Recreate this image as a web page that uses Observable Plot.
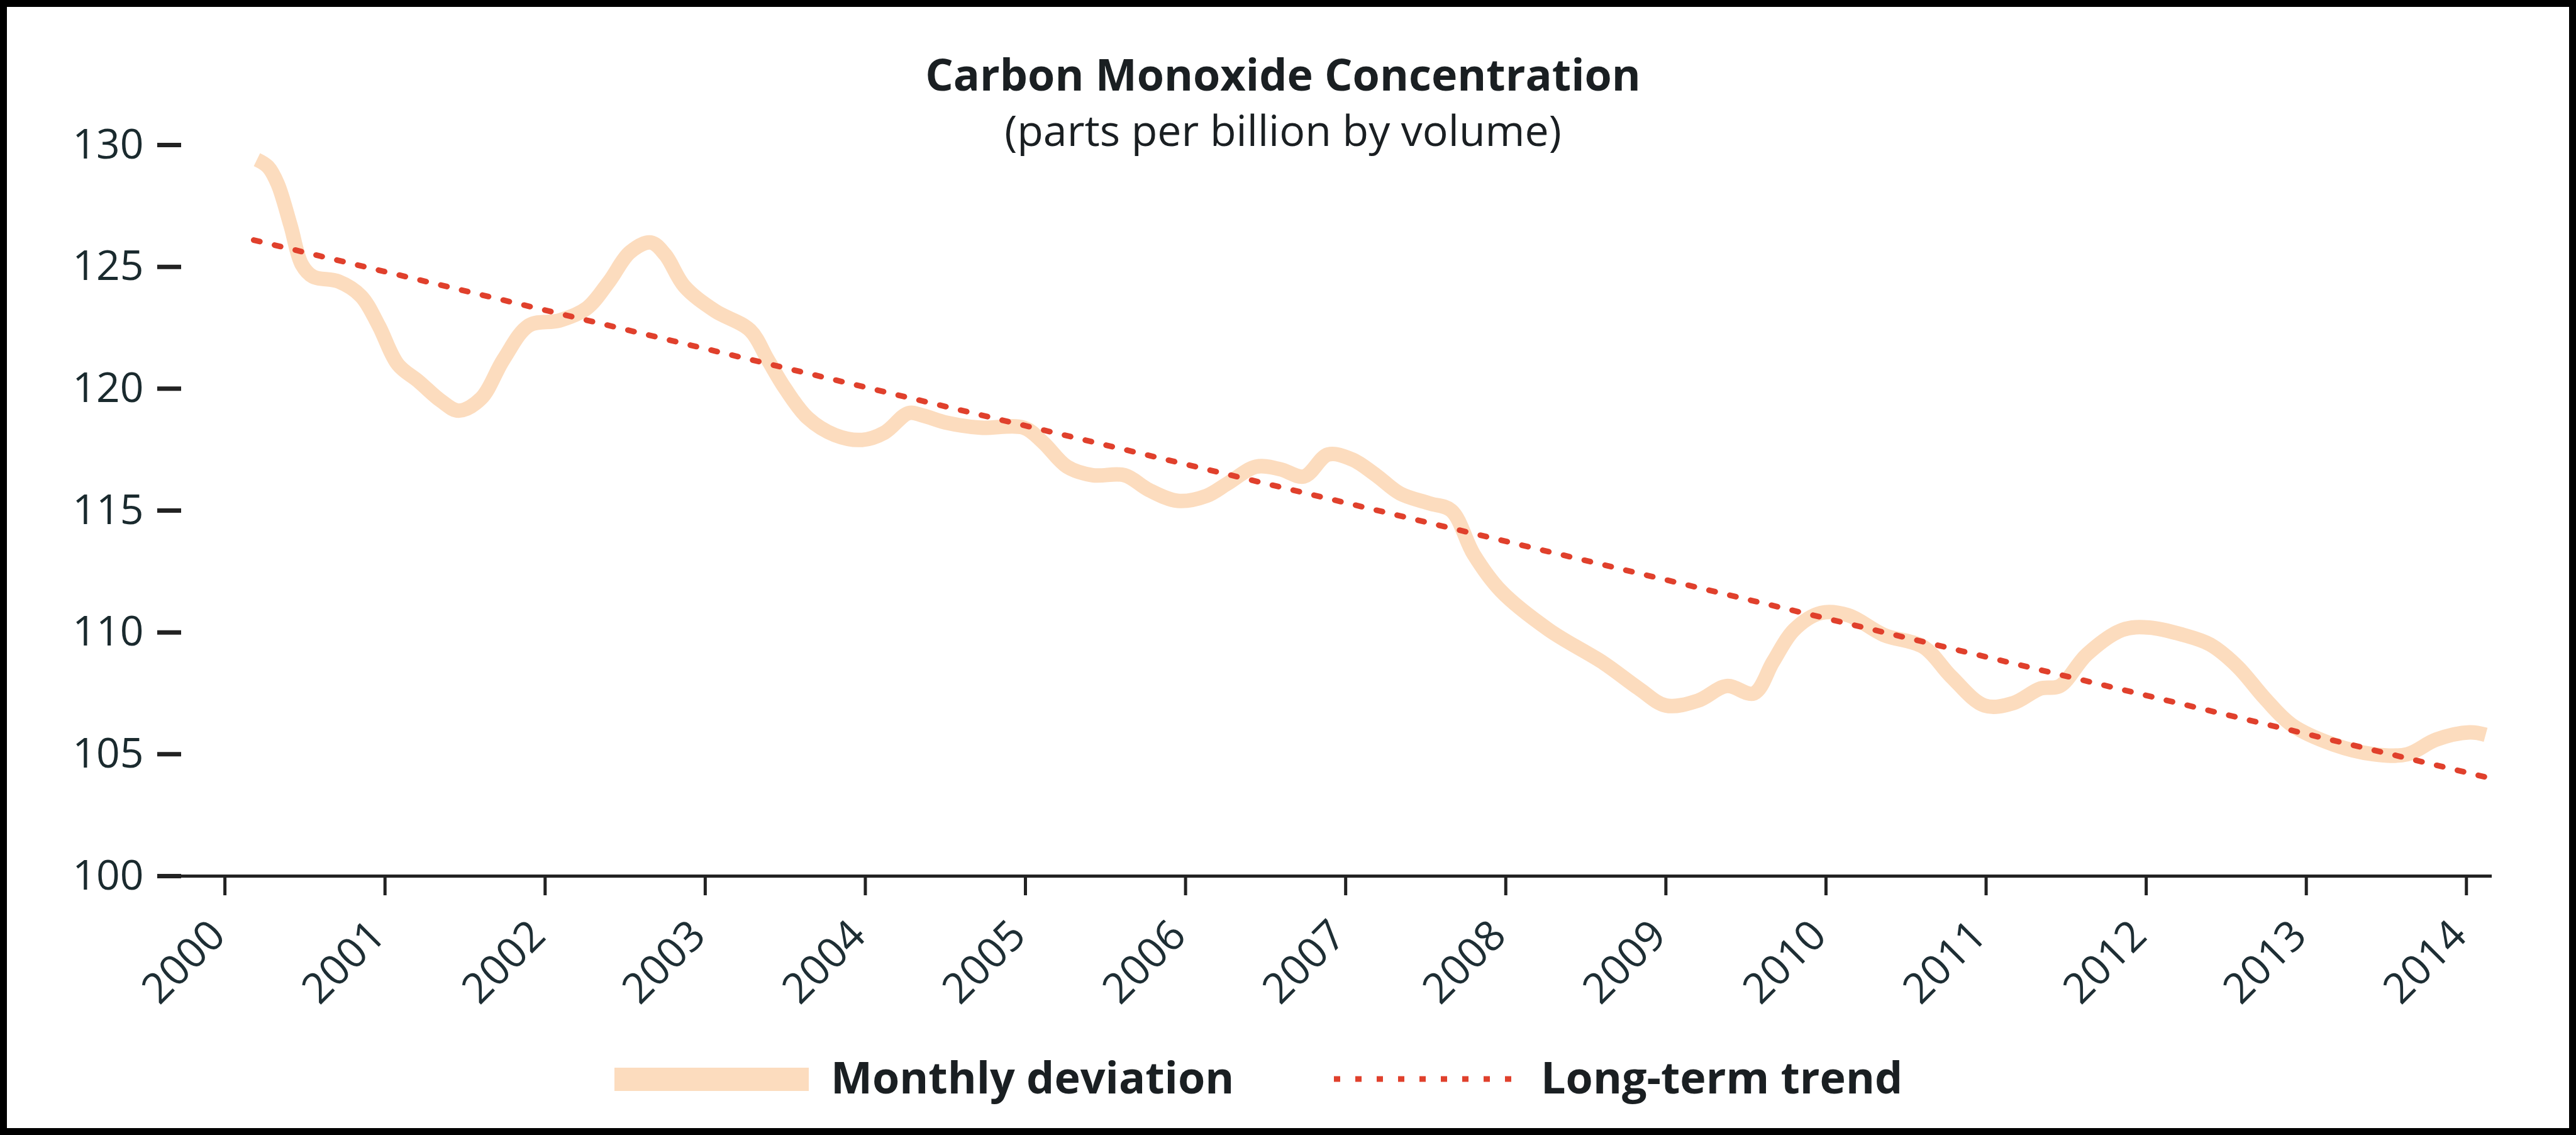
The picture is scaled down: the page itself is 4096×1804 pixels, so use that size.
<!DOCTYPE html>
<html>
<head>
<meta charset="utf-8">
<script src="https://cdn.jsdelivr.net/npm/d3@7"></script>
<script src="https://cdn.jsdelivr.net/npm/@observablehq/plot@0.6"></script>
<style>
  html, body { margin: 0; padding: 0; background: #fff; }
  #frame { position: relative; width: 4096px; height: 1804px; background: #fff; overflow: hidden; font-family: "Open Sans", sans-serif; }
  #border { position: absolute; left: 0; top: 0; width: 4096px; height: 1804px; box-sizing: border-box; border: 11px solid #000; pointer-events: none; z-index: 5; }
  #chart { position: absolute; left: 0; top: 0; }
  .title { position: absolute; left: 0; width: 4080px; text-align: center; color: #1a1f22; white-space: nowrap; }
  #t1 { top: 82px; font-size: 70px; line-height: 70px; font-weight: 700; }
  #t2 { top: 172px; font-size: 68px; line-height: 68px; font-weight: 400; }
  .leg { position: absolute; font-size: 70px; line-height: 70px; font-weight: 700; color: #1a1f22; white-space: nowrap; top: 1676px; }
  #sw1 { position: absolute; left: 977px; top: 1697px; width: 309px; height: 37px; background: #fcdcbe; }
  #sw2 { position: absolute; left: 2121px; top: 1700px; }
</style>
</head>
<body>
<div id="frame">
  <div id="chart"></div>
  <div class="title" id="t1">Carbon Monoxide Concentration</div>
  <div class="title" id="t2">(parts per billion by volume)</div>
  <div id="sw1"></div>
  <div class="leg" style="left:1321px">Monthly deviation</div>
  <svg id="sw2" width="300" height="30"><line x1="0" y1="15" x2="300" y2="15" stroke="#e0402c" stroke-width="9" stroke-dasharray="10,24"></line></svg>
  <div class="leg" style="left:2450px">Long-term trend</div>
  <div id="border"></div>
</div>
<script>
// Monthly deviation curve (decimal year, ppbv)
const years = [2000.20,2000.27,2000.33,2000.41,2000.48,2000.55,2000.71,2000.85,2000.96,2001.08,2001.21,2001.35,2001.46,2001.60,2001.74,2001.90,2002.09,2002.26,2002.40,2002.53,2002.66,2002.75,2002.87,2003.06,2003.28,2003.39,2003.50,2003.64,2003.81,2003.98,2004.12,2004.27,2004.36,2004.51,2004.72,2004.99,2005.11,2005.26,2005.42,2005.62,2005.77,2005.95,2006.13,2006.26,2006.44,2006.59,2006.74,2006.89,2007.04,2007.19,2007.34,2007.52,2007.66,2007.80,2007.97,2008.27,2008.61,2008.83,2009.00,2009.20,2009.38,2009.55,2009.67,2009.80,2009.97,2010.14,2010.36,2010.61,2010.78,2010.99,2011.17,2011.34,2011.46,2011.63,2011.85,2012.02,2012.23,2012.40,2012.57,2012.74,2012.91,2013.17,2013.42,2013.63,2013.81,2014.02,2014.12];
const values = [129.4,129.1,128.4,126.7,125.1,124.6,124.4,123.8,122.6,121.0,120.3,119.5,119.1,119.6,121.2,122.6,122.8,123.3,124.4,125.6,126.0,125.5,124.2,123.2,122.4,121.2,120.0,118.8,118.1,117.9,118.2,119.0,118.9,118.6,118.4,118.4,117.8,116.8,116.45,116.45,115.85,115.4,115.6,116.1,116.8,116.7,116.4,117.3,117.1,116.45,115.7,115.3,115.0,113.2,111.7,110.1,108.75,107.7,107.0,107.2,107.8,107.5,108.8,110.1,110.8,110.7,109.9,109.4,108.2,107.0,107.1,107.7,107.8,109.1,110.1,110.2,109.9,109.5,108.6,107.3,106.2,105.4,105.0,105.0,105.6,105.9,105.8];
// Long-term trend
const trendYears = [2000.18, 2014.16];
const trendValues = [126.1, 104.0];
// Ticks
const xTicks = [2000,2001,2002,2003,2004,2005,2006,2007,2008,2009,2010,2011,2012,2013,2014];
const yTicks = [100,105,110,115,120,125,130];

const monthly = years.map((x, i) => ({x, y: values[i]}));
const trend = trendYears.map((x, i) => ({x, y: trendValues[i]}));

const chart = Plot.plot({
  width: 4096,
  height: 1620,
  marginLeft: 254,
  marginRight: 134,
  marginTop: 230,
  marginBottom: 228,
  style: {background: "transparent", fontFamily: "'Open Sans', sans-serif", color: "#1a2a2e"},
  x: {domain: [1999.595, 2014.16], axis: null},
  y: {domain: [100, 130], axis: null},
  marks: [
    Plot.axisY(yTicks, {anchor: "left", label: null, tickSize: 38, dx: 34, tickPadding: 22, strokeWidth: 7, stroke: "#222", fill: "#1a2a2e", fontSize: 66}),
    Plot.axisX(xTicks, {anchor: "bottom", label: null, tickSize: 31, tickFormat: () => "", strokeWidth: 5, stroke: "#222"}),
    Plot.axisX(xTicks, {anchor: "bottom", label: null, tickSize: 0, tickPadding: 83, dx: -11, tickRotate: -45, tickFormat: d => String(d), fill: "#1e2e34", fontSize: 67}),
    Plot.ruleY([100], {stroke: "#222", strokeWidth: 5}),
    Plot.line(monthly, {x: "x", y: "y", stroke: "#fcdcbe", strokeWidth: 23, curve: "catmull-rom", strokeLinejoin: "round", strokeLinecap: "butt"}),
    Plot.line(trend, {x: "x", y: "y", stroke: "#e0402c", strokeWidth: 9, strokeDasharray: "10,24"})
  ]
});
document.getElementById("chart").appendChild(chart);
</script>
</body>
</html>
